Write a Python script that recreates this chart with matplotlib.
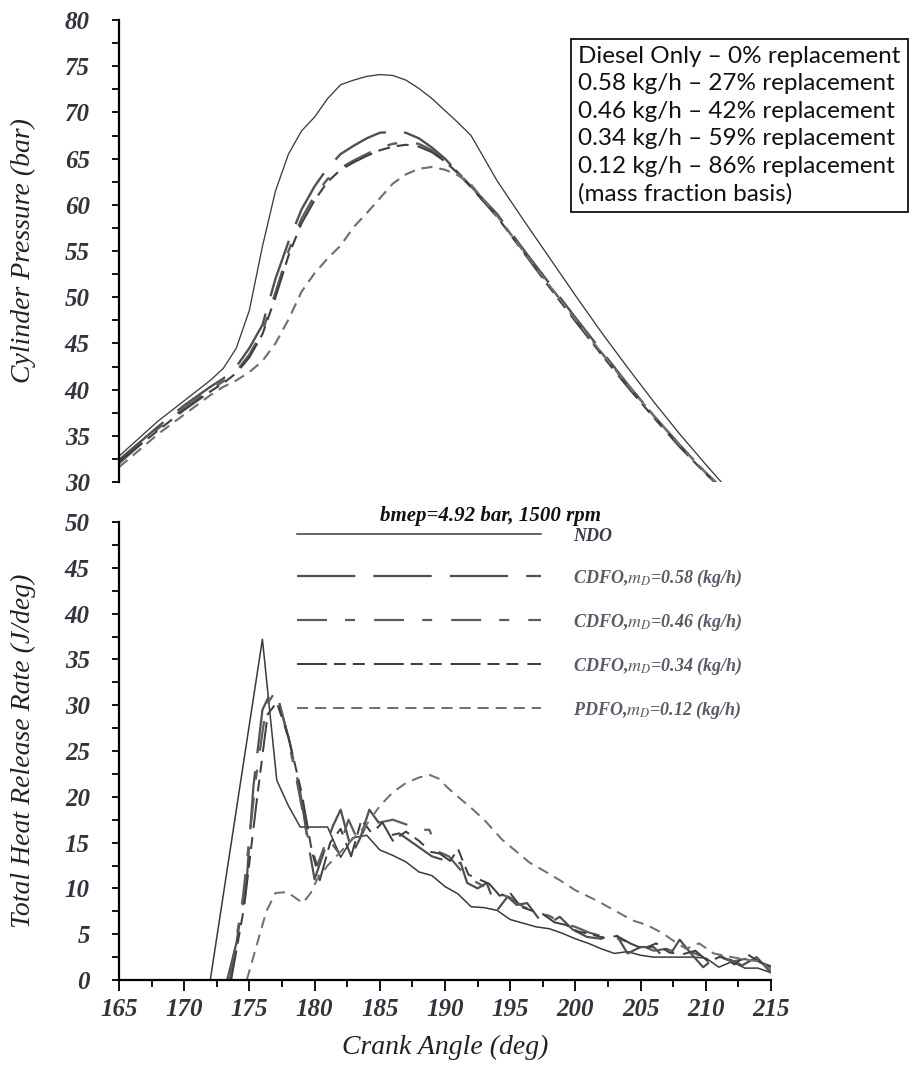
import matplotlib
matplotlib.use("Agg")
import matplotlib.pyplot as plt
from matplotlib.ticker import MultipleLocator

plt.rcParams['lines.scale_dashes'] = False
plt.rcParams['mathtext.fontset'] = 'stix'

# ---------------- data: cylinder pressure (bar) ----------------
p_angle = [165, 168, 170, 172, 173, 174, 175, 176, 177, 178, 179, 180, 181, 182, 183, 184, 185,
           186, 187, 188, 189, 190, 191, 192, 194, 196, 198, 200, 202, 204, 206, 208, 210, 211.5]
p_ndo = [32.8, 36.6, 38.8, 41.0, 42.3, 44.5, 48.6, 55.5, 61.5, 65.5, 68.0, 69.5, 71.5, 73.0, 73.5,
         73.9, 74.1, 74.0, 73.5, 72.6, 71.5, 70.2, 68.9, 67.5, 62.6, 58.4, 54.3, 50.2, 46.2, 42.4,
         38.7, 35.2, 31.9, 29.5]
p_058 = [32.4, 36.0, 38.3, 40.3, 41.2, 42.5, 44.5, 47.0, 52.0, 56.0, 59.5, 62.0, 64.0, 65.5, 66.4,
         67.2, 67.8, 67.9, 67.8, 67.2, 66.2, 65.0, 63.5, 62.0, 59.0, 55.2, 51.5, 47.8, 44.2, 40.6,
         37.2, 34.0, 31.0, 29.0]
p_046 = [32.0, 35.8, 38.0, 40.0, 40.9, 42.0, 43.8, 46.3, 50.5, 55.0, 58.5, 61.0, 62.8, 64.0, 64.8,
         65.5, 66.2, 66.6, 66.8, 66.6, 65.9, 64.8, 63.5, 62.0, 58.8, 55.0, 51.3, 47.6, 44.0, 40.5,
         37.2, 34.0, 31.0, 29.0]
p_034 = [32.2, 35.6, 37.8, 39.8, 40.7, 41.8, 43.5, 46.0, 50.0, 54.5, 58.0, 60.5, 62.5, 63.8, 64.6,
         65.3, 65.9, 66.3, 66.5, 66.3, 65.7, 64.7, 63.4, 61.9, 58.7, 54.9, 51.1, 47.4, 43.8, 40.3,
         37.0, 33.8, 30.9, 28.9]
p_012 = [31.6, 35.2, 37.3, 39.4, 40.3, 41.0, 41.9, 43.1, 45.0, 47.6, 50.6, 52.6, 54.2, 55.6, 57.6,
         59.1, 60.7, 62.3, 63.3, 63.9, 64.1, 63.8, 63.2, 62.2, 58.8, 55.0, 51.3, 47.6, 44.0, 40.5,
         37.2, 34.0, 31.0, 29.0]

# ---------------- data: heat release rate (J/deg) ----------------
h_ndo_x = [172.0, 176.0, 177.1, 178.0, 178.9, 181.0, 182.0, 182.9, 184.0, 185.0,
           186.0, 187.0, 188.0, 189.0, 190.0, 191.0, 192.0, 193.0, 194.0, 195.0,
           196.0, 197.0, 198.0, 199.0, 200.0, 201.0, 202.0, 203.0, 204.0, 205.0,
           206.0, 207.0, 208.0, 209.0, 210.0, 211.0, 212.0, 213.0, 214.0, 215.0]
h_ndo = [0.0, 37.2, 21.8, 19.0, 16.7, 16.7, 13.4, 15.5, 15.8, 14.2,
         13.6, 12.9, 11.8, 11.4, 10.2, 9.4, 8.0, 7.9, 7.6, 6.6,
         6.2, 5.8, 5.6, 5.1, 4.5, 4.0, 3.4, 2.9, 3.1, 2.7,
         2.5, 2.5, 2.5, 2.5, 2.4, 1.4, 2.0, 1.3, 1.3, 0.8]

h_058_x = [173.3, 174.0, 174.8, 175.3, 176.0, 176.6, 177.2, 178.1, 178.9, 179.5,
           180.0, 180.6, 181.4, 182.0, 182.9, 183.5, 184.2, 185.0, 185.8, 186.5,
           187.5, 188.3, 189.0, 189.9, 190.5, 191.2, 191.7, 192.5, 193.2, 194.0,
           194.8, 195.5, 196.3, 197.3, 198.0, 198.8, 199.8, 200.9, 202.0, 202.9,
           204.0, 205.0, 206.0, 207.0, 208.0, 208.8, 209.8, 210.8, 211.9, 212.8,
           213.9, 215.0]
h_058 = [0.0, 4.0, 11.0, 21.0, 29.5, 31.3, 30.8, 25.9, 20.5, 15.0,
         11.0, 13.5, 16.8, 18.6, 13.8, 15.5, 18.6, 17.0, 15.8, 16.0,
         15.0, 14.2, 13.5, 13.1, 12.5, 12.8, 10.6, 10.0, 10.6, 7.6,
         9.1, 8.2, 8.4, 6.5, 6.2, 6.9, 5.5, 4.7, 4.5, 5.5,
         2.9, 3.6, 3.6, 2.2, 4.4, 3.0, 1.4, 2.5, 2.2, 1.6,
         2.5, 0.8]

h_046_x = [173.5, 174.5, 175.5, 176.3, 177.0, 177.8, 178.6, 179.4, 180.2, 181.0,
           181.8, 182.6, 183.4, 184.2, 185.0, 186.0, 187.0, 187.9, 188.8, 189.5,
           190.3, 191.2, 192.0, 193.0, 194.0, 195.0, 196.0, 197.0, 198.0, 199.0,
           200.0, 201.0, 202.0, 203.0, 204.0, 205.0, 206.0, 207.0, 208.0, 209.0,
           210.0, 211.0, 212.0, 213.0, 214.0, 215.0]
h_046 = [0.0, 9.0, 22.0, 30.0, 31.5, 27.5, 22.0, 16.0, 12.5, 15.5,
         14.0, 17.5, 15.0, 17.8, 17.2, 17.5, 17.0, 16.4, 16.4, 14.0,
         13.5, 12.0, 11.0, 10.2, 9.5, 9.0, 8.0, 7.4, 7.0, 6.2,
         5.8, 5.2, 4.8, 4.6, 4.2, 3.8, 3.2, 3.4, 2.8, 3.0,
         2.4, 2.6, 2.0, 2.3, 1.8, 1.4]

h_034_x = [173.6, 174.6, 175.6, 176.4, 177.1, 178.0, 179.0, 179.8, 180.4, 181.2,
           182.0, 182.8, 183.6, 184.4, 185.2, 186.0, 187.0, 188.0, 188.9, 189.6,
           190.4, 191.0, 191.8, 192.6, 193.4, 194.2, 195.0, 195.8, 196.6, 197.5,
           198.4, 199.3, 200.2, 201.2, 202.2, 203.2, 204.2, 205.2, 206.2, 207.2,
           208.2, 209.2, 210.2, 211.2, 212.2, 213.2, 214.2, 215.0]
h_034 = [0.0, 8.0, 20.0, 29.0, 30.3, 26.5, 20.5, 14.0, 10.9, 15.0,
         16.5, 13.5, 17.5, 16.0, 17.2, 15.2, 16.2, 15.2, 14.0, 13.8,
         13.0, 14.3, 11.5, 11.0, 10.5, 9.2, 9.5, 8.0, 7.6, 7.2,
         6.3, 6.0, 5.3, 5.0, 4.6, 4.8, 4.0, 3.4, 4.0, 3.0,
         2.8, 3.2, 2.0, 2.6, 1.7, 2.8, 1.9, 1.5]

h_012_x = [174.8, 175.5, 176.3, 177.0, 177.9, 178.5, 179.1, 179.7, 180.2, 181.0,
           182.0, 183.0, 184.0, 185.0, 186.0, 187.0, 188.0, 188.8, 189.5, 190.2,
           191.0, 192.0, 193.0, 194.4, 195.5, 196.5, 197.5, 198.8, 200.0, 201.6,
           203.0, 204.4, 205.5, 206.7, 207.6, 208.5, 209.5, 210.6, 212.0, 213.2,
           214.2, 215.0]
h_012 = [0.0, 3.5, 7.5, 9.5, 9.6, 9.0, 8.4, 9.5, 11.0, 12.5,
         14.0, 15.5, 17.0, 19.0, 20.5, 21.5, 22.1, 22.4, 22.0, 21.0,
         20.0, 18.8, 17.5, 15.3, 14.0, 12.8, 12.0, 10.9, 9.8, 8.7,
         7.6, 6.5, 6.0, 5.1, 4.2, 3.4, 4.0, 2.9, 2.5, 2.2,
         2.0, 1.1]

legend_labels = ["NDO",
                 r"CDFO,$\mathit{m}_{D}$=0.58 (kg/h)",
                 r"CDFO,$\mathit{m}_{D}$=0.46 (kg/h)",
                 r"CDFO,$\mathit{m}_{D}$=0.34 (kg/h)",
                 r"PDFO,$\mathit{m}_{D}$=0.12 (kg/h)"]
box_lines = ["Diesel Only \u2013 0% replacement",
             "0.58 kg/h \u2013 27% replacement",
             "0.46 kg/h \u2013 42% replacement",
             "0.34 kg/h \u2013 59% replacement",
             "0.12 kg/h \u2013 86% replacement",
             "(mass fraction basis)"]
xticks = [165, 170, 175, 180, 185, 190, 195, 200, 205, 210, 215]

# ---------------- styles ----------------
styles = [
    dict(color='#3a3a3a', lw=1.1, ls='-'),
    dict(color='#505050', lw=2.0, ls=(0, (42, 13))),
    dict(color='#5c5c5c', lw=2.0, ls=(0, (21.6, 13, 7.2, 13.7))),
    dict(color='#404040', lw=1.8, ls=(0, (21.6, 5, 8.6, 5, 8.6, 6.5))),
    dict(color='#707070', lw=1.8, ls=(0, (8, 5))),
]

serif = 'Liberation Serif'
tick_color = '#33333f'

fig = plt.figure(figsize=(9.21, 10.83), dpi=100)
ax1 = fig.add_axes([0.1292, 0.5549, 0.7079, 0.4266])
ax2 = fig.add_axes([0.1292, 0.0951, 0.7079, 0.4229])

pdata = [p_ndo, p_058, p_046, p_034, p_012]
for yv, st in zip(pdata, styles):
    ax1.plot(p_angle, yv, color=st['color'], lw=st['lw'] * 0.85, linestyle=st['ls'])

hx = [h_ndo_x, h_058_x, h_046_x, h_034_x, h_012_x]
hy = [h_ndo, h_058, h_046, h_034, h_012]
for xv, yv, st, lab in zip(hx, hy, styles, legend_labels):
    ax2.plot(xv, yv, color=st['color'], lw=st['lw'] * (0.8 if st['ls'] != '-' else 1.0),
             linestyle=st['ls'], label=lab)

# axes formatting
for ax in (ax1, ax2):
    ax.set_xlim(165, 215)
    for s in ('top', 'right'):
        ax.spines[s].set_visible(False)
    ax.spines['left'].set_linewidth(1.6)
    ax.spines['bottom'].set_linewidth(1.6)
    ax.yaxis.set_major_locator(MultipleLocator(5))
    ax.yaxis.set_minor_locator(MultipleLocator(2.5))
    ax.tick_params(axis='y', which='both', direction='out', length=5, width=1.3,
                   pad=16, labelsize=18, labelcolor=tick_color)
    for t in ax.get_yticklabels():
        t.set_fontfamily(serif)
        t.set_fontstyle('italic')
        t.set_fontweight('bold')

ax1.set_ylim(30, 80)
ax1.spines['bottom'].set_visible(False)
ax1.set_xticks([])

ax2.set_ylim(0, 50)
ax2.set_xticks(xticks)
ax2.xaxis.set_minor_locator(MultipleLocator(2.5))
ax2.tick_params(axis='x', which='major', direction='out', length=8, width=1.3,
                pad=5, labelsize=18, labelcolor=tick_color)
ax2.tick_params(axis='x', which='minor', direction='out', length=5, width=1.3)
for t in ax2.get_xticklabels():
    t.set_fontfamily(serif)
    t.set_fontstyle('italic')
    t.set_fontweight('bold')

lab_kw = dict(fontfamily=serif, fontstyle='italic', fontsize=20, color='#222222')
ax1.set_ylabel("Cylinder Pressure (bar)", **lab_kw)
ax2.set_ylabel("Total Heat Release Rate (J/deg)", **lab_kw)
ax2.set_xlabel("Crank Angle (deg)", labelpad=10, **lab_kw)
ax1.yaxis.set_label_coords(-0.128, 0.5)
ax2.yaxis.set_label_coords(-0.128, 0.5)

ax2.text(0.57, 1.013, "bmep=4.92 bar, 1500 rpm", transform=ax2.transAxes,
         ha='center', va='center', fontfamily=serif, fontstyle='italic',
         fontweight='bold', fontsize=15, color='#111111')

leg = ax2.legend(loc='upper left', bbox_to_anchor=(0.273, 0.988), frameon=False,
                 borderpad=0, borderaxespad=0, handlelength=13.5, handletextpad=1.8,
                 labelspacing=1.27,
                 prop=dict(family=serif, style='italic', weight='bold', size=13))
for i, t in enumerate(leg.get_texts()):
    t.set_color('#3a3a48' if i == 0 else '#5a5a68')

fig.text(578 / 921, 1 - 46 / 1083, "\n".join(box_lines), ha='left', va='top',
         fontfamily='Lato', fontsize=17.5, color='#111111', linespacing=1.38,
         bbox=dict(boxstyle='square,pad=0.3', fc='white', ec='#111111', lw=1.3))

fig.savefig("out.png", dpi=100, facecolor='white')
